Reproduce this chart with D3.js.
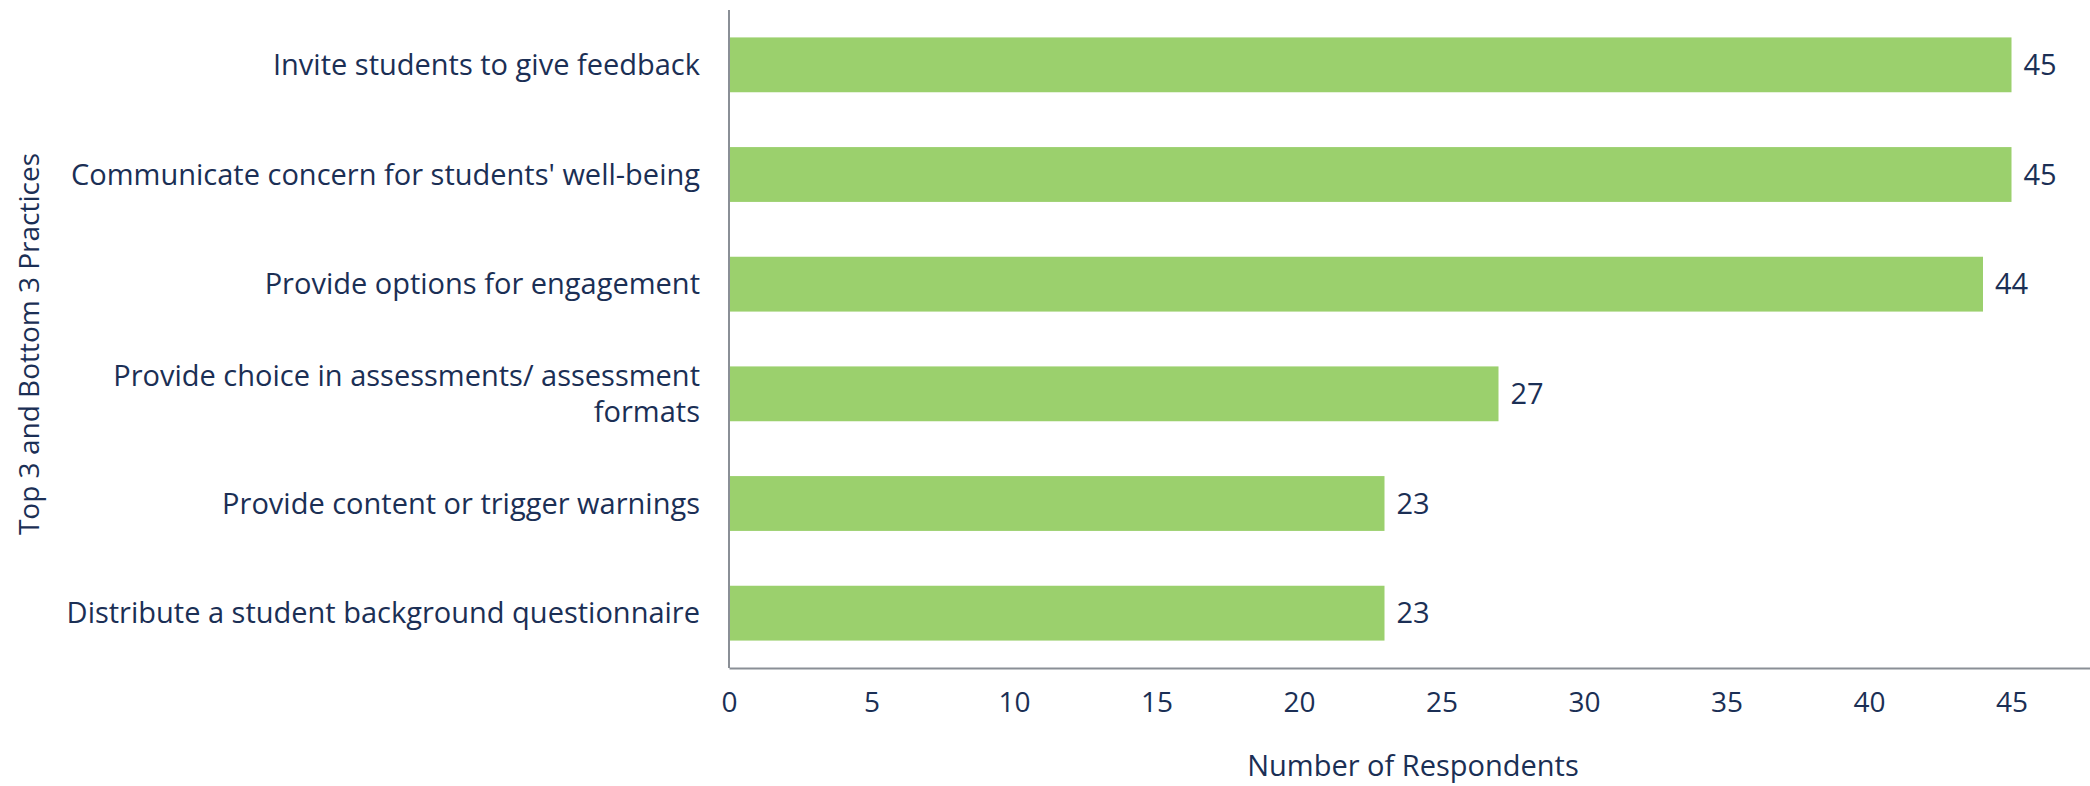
<!DOCTYPE html>
<html>
<head>
<meta charset="utf-8">
<script src="https://cdn.jsdelivr.net/npm/d3@7"></script>
<style>
  body { margin: 0; background: #fff; }
  svg text { font-family: "Open Sans", sans-serif; fill: #1b2f55; }
</style>
</head>
<body>
<svg id="chart"></svg>
<script>
// data
const categories = [
  ["Invite students to give feedback"],
  ["Communicate concern for students' well-being"],
  ["Provide options for engagement"],
  ["Provide choice in assessments/ assessment", "formats"],
  ["Provide content or trigger warnings"],
  ["Distribute a student background questionnaire"]
];
const values = [45, 45, 44, 27, 23, 23];
const xTicks = [0, 5, 10, 15, 20, 25, 30, 35, 40, 45];
const xTitle = "Number of Respondents";
const yTitle = "Top 3 and Bottom 3 Practices";

const W = 2090, H = 786;
const margin = { top: 10, left: 729, right: -7, bottom: 118 };
const width = W - margin.left - margin.right;
const height = H - margin.top - margin.bottom;

const svg = d3.select('#chart').attr('width', W).attr('height', H);
const chart = svg.append('g')
  .attr('transform', `translate(${margin.left},${margin.top})`);

const rows = categories.map((c, i) => ({ key: i, lines: c, value: values[i] }));

const xScale = d3.scaleLinear().domain([0, 48]).range([0, width]);
const yScale = d3.scaleBand()
  .domain(rows.map(d => d.key))
  .range([0, height])
  .paddingInner(0.5)
  .paddingOuter(0.25);

// bars
chart.selectAll('rect.bar')
  .data(rows)
  .join('rect')
  .attr('class', 'bar')
  .attr('x', 0)
  .attr('y', d => yScale(d.key))
  .attr('width', d => xScale(d.value))
  .attr('height', yScale.bandwidth())
  .attr('fill', '#9bd06d');

// value labels
chart.selectAll('text.val')
  .data(rows)
  .join('text')
  .attr('class', 'val')
  .attr('x', d => xScale(d.value) + 12)
  .attr('y', d => yScale(d.key) + yScale.bandwidth() / 2)
  .attr('dy', '0.35em')
  .style('font-size', '29px')
  .text(d => d.value);

// category labels
const lab = chart.selectAll('text.cat')
  .data(rows)
  .join('text')
  .attr('class', 'cat')
  .attr('text-anchor', 'end')
  .style('font-size', '29px')
  .attr('transform', d => `translate(-29,${yScale(d.key) + yScale.bandwidth() / 2})`);
lab.selectAll('tspan')
  .data(d => d.lines.map((l, i) => ({ l, i, n: d.lines.length })))
  .join('tspan')
  .attr('x', 0)
  .attr('y', d => (d.i - (d.n - 1) / 2) * 36)
  .attr('dy', '0.35em')
  .text(d => d.l);

// x axis
const xAxis = d3.axisBottom(xScale).tickValues(xTicks).tickSize(0).tickPadding(24);
const gx = chart.append('g')
  .attr('transform', `translate(0,${height})`)
  .call(xAxis);
gx.select('.domain').attr('stroke', '#8a8f96').attr('stroke-width', 2);
gx.selectAll('text').style('font-size', '28px').attr('fill', '#1b2f55');

// y axis line
chart.append('line')
  .attr('x1', 0).attr('x2', 0)
  .attr('y1', 0).attr('y2', height)
  .attr('stroke', '#8a8f96')
  .attr('stroke-width', 2);

// titles
svg.append('text')
  .attr('x', margin.left + width / 2)
  .attr('y', 766)
  .attr('dy', '0.35em')
  .attr('text-anchor', 'middle')
  .style('font-size', '29px')
  .text(xTitle);

svg.append('text')
  .attr('transform', `translate(29,${margin.top + height / 2 + 5}) rotate(-90)`)
  .attr('dy', '0.35em')
  .attr('text-anchor', 'middle')
  .style('font-size', '28px')
  .text(yTitle);
</script>
</body>
</html>
